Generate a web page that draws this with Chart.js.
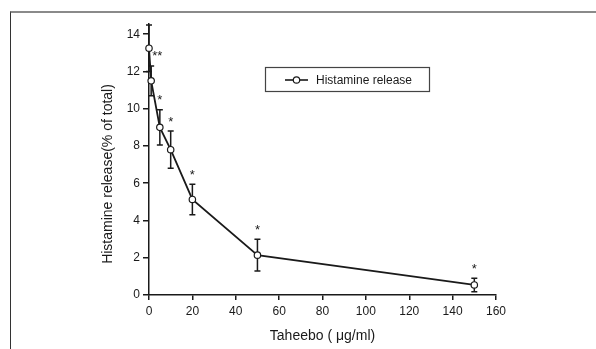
<!DOCTYPE html>
<html>
<head>
<meta charset="utf-8">
<script src="https://cdn.jsdelivr.net/npm/chart.js@4.4.1/dist/chart.umd.min.js"></script>
<style>
    html, body { margin: 0; padding: 0; background: #fff; }
    #wrap { position: relative; width: 596px; height: 349px; }
    #frame {
        position: absolute; left: 10px; top: 11px; right: 0; bottom: 0;
        border-top: 2px solid #8a8a8a; border-left: 1px solid #333;
    }
    canvas { position: absolute; left: 0; top: 0; }
</style>
</head>
<body>
<div id="wrap">
    <div id="frame"></div>
    <canvas id="chart" width="596" height="349"></canvas>
</div>
<script>
// Taheebo dose (ug/ml) vs histamine release (% of total)
const doses = [0, 1, 5, 10, 20, 50, 150];
const release = [13.25, 11.5, 9.0, 7.8, 5.13, 2.14, 0.54];
const releaseErr = [1.25, 0.8, 0.95, 1.0, 0.82, 0.85, 0.36];
const signif = ['', '**', '*', '*', '*', '*', '*'];
const xTicks = [0, 20, 40, 60, 80, 100, 120, 140, 160];
const yTicks = [0, 2, 4, 6, 8, 10, 12, 14];
const seriesLabel = 'Histamine release';

const FONT = "'Liberation Sans', Arial, sans-serif";
const INK = '#1a1a1a';

// error bars + significance marks, drawn under the points
const errorBars = {
    id: 'errorBars',
    beforeDatasetsDraw(chart) {
        const { ctx, scales: { x, y } } = chart;
        ctx.save();
        ctx.strokeStyle = INK;
        ctx.lineWidth = 1.5;
        doses.forEach((d, i) => {
            const px = x.getPixelForValue(d);
            const top = y.getPixelForValue(release[i] + releaseErr[i]);
            const bot = y.getPixelForValue(release[i] - releaseErr[i]);
            ctx.beginPath();
            ctx.moveTo(px, top); ctx.lineTo(px, bot);
            ctx.moveTo(px - 3, top); ctx.lineTo(px + 3, top);
            ctx.moveTo(px - 3, bot); ctx.lineTo(px + 3, bot);
            ctx.stroke();
        });
        ctx.fillStyle = INK;
        ctx.font = '13px ' + FONT;
        ctx.textBaseline = 'middle';
        doses.forEach((d, i) => {
            if (!signif[i]) return;
            const px = x.getPixelForValue(d);
            const top = y.getPixelForValue(release[i] + releaseErr[i]);
            if (signif[i].length > 1) {
                ctx.textAlign = 'left';
                ctx.fillText(signif[i], px + 1, top - 9);
            } else {
                ctx.textAlign = 'center';
                ctx.fillText(signif[i], px, top - 9);
            }
        });
        ctx.restore();
    }
};

// boxed legend inside the plot, plus the y title placed by hand
const boxLegend = {
    id: 'boxLegend',
    afterDraw(chart) {
        const { ctx } = chart;
        ctx.save();
        ctx.strokeStyle = '#444';
        ctx.lineWidth = 1.2;
        ctx.strokeRect(265.5, 67.5, 164, 24);
        ctx.strokeStyle = INK;
        ctx.lineWidth = 1.6;
        ctx.beginPath();
        ctx.moveTo(285, 80); ctx.lineTo(308, 80);
        ctx.stroke();
        ctx.beginPath();
        ctx.arc(296.5, 80, 3.2, 0, Math.PI * 2);
        ctx.fillStyle = '#fff';
        ctx.fill();
        ctx.lineWidth = 1.2;
        ctx.stroke();
        ctx.fillStyle = INK;
        ctx.font = '12px ' + FONT;
        ctx.textAlign = 'left';
        ctx.textBaseline = 'middle';
        ctx.fillText(seriesLabel, 316, 80.5);

        ctx.translate(108, 174);
        ctx.rotate(-Math.PI / 2);
        ctx.textAlign = 'center';
        ctx.font = '14px ' + FONT;
        ctx.fillText('Histamine release(% of total)', 0, 0);
        ctx.restore();
    }
};

new Chart(document.getElementById('chart').getContext('2d'), {
    type: 'line',
    data: {
        datasets: [{
            label: seriesLabel,
            data: doses.map((d, i) => ({ x: d, y: release[i] })),
            borderColor: INK,
            borderWidth: 1.8,
            tension: 0,
            clip: false,
            pointRadius: 3.2,
            pointBorderWidth: 1.2,
            pointBackgroundColor: '#fff',
            pointBorderColor: INK
        }]
    },
    options: {
        responsive: false,
        animation: false,
        events: [],
        layout: { padding: { left: 0, right: 100, top: 24, bottom: 0 } },
        plugins: { legend: { display: false }, tooltip: { enabled: false } },
        scales: {
            x: {
                type: 'linear',
                min: 0,
                max: 160,
                afterBuildTicks: s => { s.ticks = xTicks.map(v => ({ value: v })); },
                afterFit: s => { s.height = 54; },
                ticks: { color: INK, font: { family: FONT, size: 12 }, padding: 4 },
                grid: { drawOnChartArea: false, drawTicks: true, tickLength: 5, color: INK, lineWidth: 1.5 },
                border: { display: true, color: INK, width: 1.5 },
                title: {
                    display: true,
                    text: 'Taheebo ( \u03bcg/ml)',
                    color: INK,
                    font: { family: FONT, size: 14 },
                    padding: { top: 11 }
                }
            },
            y: {
                type: 'linear',
                min: 0,
                max: 14.55,
                afterBuildTicks: s => { s.ticks = yTicks.map(v => ({ value: v })); },
                afterFit: s => { s.width = 149; },
                ticks: { color: INK, font: { family: FONT, size: 12 }, padding: 3 },
                grid: { drawOnChartArea: false, drawTicks: true, tickLength: 6, color: INK, lineWidth: 1.5 },
                border: { display: true, color: INK, width: 1.5 }
            }
        }
    },
    plugins: [errorBars, boxLegend]
});
</script>
</body>
</html>
